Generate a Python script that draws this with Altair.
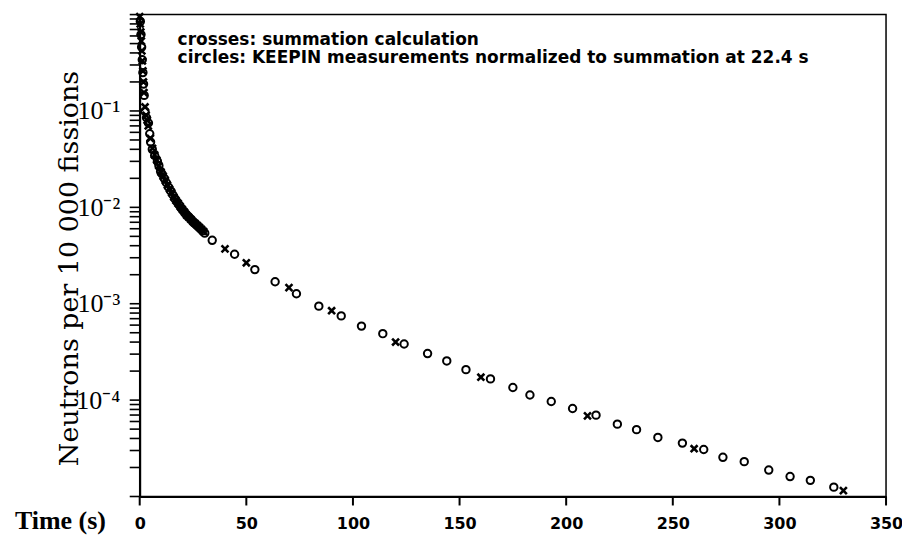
import altair as alt
import pandas as pd

# ---- data ----
circle_t = [0.3, 0.6, 0.9, 1.2, 1.5, 1.8, 2.1, 2.5, 3.2, 4.1, 4.7, 5.1, 5.9, 7.0, 8.3,
            9.0, 9.8, 10.5, 11.5, 12.5, 13.5, 14.5, 15.5, 16.5, 17.5, 18.5, 19.5, 20.5,
            21.5, 22.5, 23.5, 24.5, 25.5, 26.5, 27.5, 28.5, 29.5, 30.5,
            34, 44.5, 54, 63.5, 73.5, 84, 94.5, 104, 114, 124, 135, 144, 153, 164.5,
            175, 183, 193, 203, 214, 224, 233, 243, 254.5, 264.5, 273.5, 283.5, 295,
            305, 314.5, 325.5]
circle_v = [0.85, 0.62, 0.46, 0.34, 0.25, 0.19, 0.145, 0.099, 0.085, 0.075, 0.058, 0.0475,
            0.040, 0.0345, 0.030, 0.027, 0.0236, 0.0222, 0.020, 0.018, 0.0162, 0.0148,
            0.0135, 0.0123, 0.0114, 0.0106, 0.0098, 0.0092, 0.0086, 0.0081, 0.0077,
            0.0073, 0.0069, 0.0066, 0.0063, 0.0060, 0.0057, 0.0054,
            4.55e-3, 3.26e-3, 2.26e-3, 1.69e-3, 1.27e-3, 9.44e-4, 7.48e-4, 5.86e-4,
            4.89e-4, 3.82e-4, 3.04e-4, 2.55e-4, 2.07e-4, 1.66e-4, 1.35e-4, 1.13e-4,
            9.68e-5, 8.19e-5, 6.98e-5, 5.63e-5, 4.94e-5, 4.10e-5, 3.58e-5, 3.07e-5,
            2.55e-5, 2.30e-5, 1.88e-5, 1.61e-5, 1.47e-5, 1.25e-5]

cross_t = [0, 0.25, 0.5, 0.75, 1.0, 1.25, 1.5, 1.75, 2.0, 2.5, 3.0, 3.5, 4.0,
           5, 6, 7, 8, 9, 10, 11, 12, 13, 14, 15, 16, 17, 18, 19, 20, 21, 22, 23,
           24, 25, 26, 27, 28, 29, 30,
           40, 50, 70, 90, 120, 160, 210, 260, 330]
cross_v = [0.95, 0.8, 0.66, 0.53, 0.42, 0.33, 0.26, 0.2, 0.155, 0.11, 0.09, 0.08, 0.07,
           0.052, 0.041, 0.035, 0.031, 0.027, 0.0232, 0.021, 0.019, 0.017, 0.0155,
           0.0142, 0.0128, 0.0118, 0.011, 0.0102, 0.0095, 0.0089, 0.0083, 0.0079,
           0.0075, 0.0071, 0.0068, 0.0065, 0.0062, 0.0059, 0.0056,
           3.71e-3, 2.66e-3, 1.47e-3, 8.47e-4, 4.00e-4, 1.73e-4, 6.86e-5, 3.13e-5,
           1.15e-5]

x_ticks = [0, 50, 100, 150, 200, 250, 300, 350]
decades = [1e-5, 1e-4, 1e-3, 1e-2, 1e-1]
minor_mult = [1, 2, 3, 4, 5, 6, 7, 8, 9]
y_ticks = [d * m for d in decades for m in minor_mult] + [1.0]

legend_lines = ["crosses: summation calculation",
                "circles: KEEPIN measurements normalized to summation at 22.4 s"]

circles = pd.DataFrame({"t": circle_t, "v": circle_v})
crosses = pd.DataFrame({"t": cross_t, "v": cross_v})
xtick_df = pd.DataFrame({"t": x_ticks})
ytick_df = pd.DataFrame({"v": y_ticks})

label_expr = ("abs(log(datum.value)/log(10) + 1) < 0.01 ? '10⁻¹' : "
              "abs(log(datum.value)/log(10) + 2) < 0.01 ? '10⁻²' : "
              "abs(log(datum.value)/log(10) + 3) < 0.01 ? '10⁻³' : "
              "abs(log(datum.value)/log(10) + 4) < 0.01 ? '10⁻⁴' : ''")

x_scale = alt.Scale(domain=[0, 350], nice=False)
y_scale = alt.Scale(type="log", domain=[1e-5, 1], nice=False)

x_enc = alt.X("t:Q", scale=x_scale,
              axis=alt.Axis(values=x_ticks, title="Time (s)", grid=False, ticks=False,
                            labelFont="DejaVu Sans", labelFontWeight="bold",
                            labelFontSize=16, labelColor="black", labelPadding=19,
                            domainColor="black", domainWidth=2,
                            titleFont="Liberation Serif", titleFontWeight="bold",
                            titleFontSize=26, titleColor="black",
                            titleX=-80, titleY=24, titleAlign="center",
                            titleBaseline="middle", titleAngle=0, labelFlush=False))
y_enc = alt.Y("v:Q", scale=y_scale,
              axis=alt.Axis(values=y_ticks, labelExpr=label_expr, ticks=False,
                            title="Neutrons per 10 000 fissions", grid=False,
                            labelFont="Liberation Serif", labelFontSize=26,
                            labelColor="black", labelPadding=20, labelBaseline="middle",
                            domainColor="black", domainWidth=2, labelOverlap=False,
                            titleFont="DejaVu Serif", titleFontWeight="normal",
                            titleFontSize=27, titleColor="black",
                            titleX=-70, titleY=254, titleAlign="center",
                            titleBaseline="middle", titleAngle=270, labelFlush=False))

circ = alt.Chart(circles).mark_point(shape="circle", filled=False, color="black",
                                     strokeWidth=2, size=55, opacity=1).encode(x=x_enc, y=y_enc)
crs = alt.Chart(crosses).mark_point(shape="M-1,-1L1,1M-1,1L1,-1", filled=False,
                                    color="black", strokeWidth=2.6, size=48,
                                    opacity=1).encode(x="t:Q", y="v:Q")

ytick_marks = alt.Chart(ytick_df).mark_rule(color="black", strokeWidth=1.6,
                                            clip=False).encode(
    y=alt.Y("v:Q", scale=y_scale), x=alt.value(-10), x2=alt.value(0))
xtick_marks = alt.Chart(xtick_df).mark_rule(color="black", strokeWidth=2,
                                            clip=False).encode(
    x=alt.X("t:Q", scale=x_scale), y=alt.value(483), y2=alt.value(492))

txt = alt.Chart(pd.DataFrame({"a": [0]})).mark_text(
    align="left", baseline="top", font="DejaVu Sans", fontWeight="bold",
    fontSize=17, lineHeight=19, color="black"
).encode(x=alt.value(38), y=alt.value(17), text=alt.value(legend_lines))

chart = alt.layer(circ, crs, ytick_marks, xtick_marks, txt).properties(
    width=748, height=483, autosize=alt.AutoSizeParams(type="none"),
    padding={"left": 132, "top": 6, "right": 16, "bottom": 38}
).configure_view(stroke="black", strokeWidth=1.5)

chart.save("out.html", embed_options={"renderer": "svg", "actions": False})
